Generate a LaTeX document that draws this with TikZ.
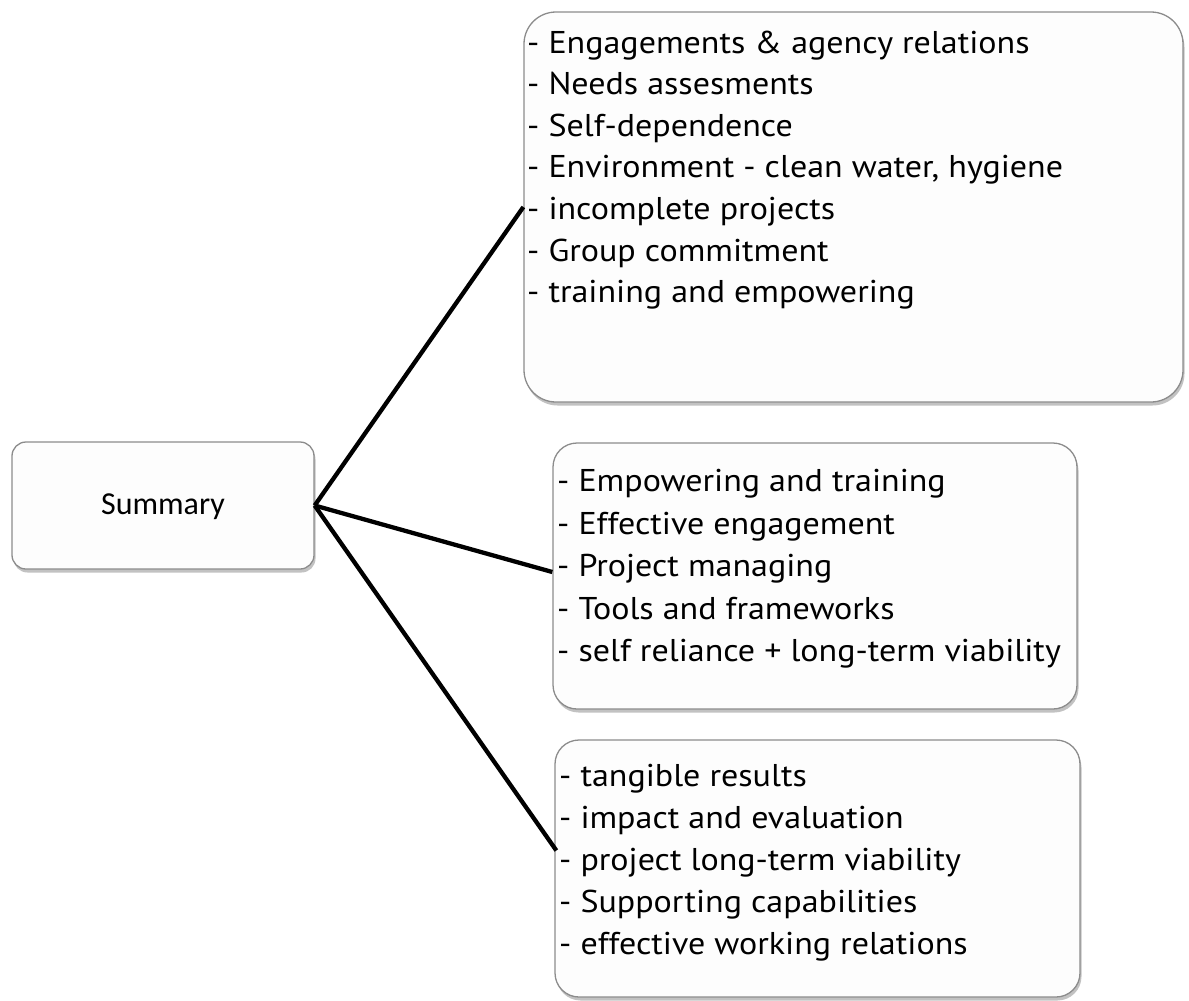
\documentclass[tikz,border=0pt]{standalone}
\usepackage{fontspec}
\setmainfont{PT Sans}[FakeStretch=1.08]
\newfontfamily\sumfont{Carlito}
\usetikzlibrary{shadows,calc}
\definecolor{boxline}{HTML}{8C8C8C}
\definecolor{boxfill}{HTML}{FDFDFD}
\tikzset{
  card/.style={draw=boxline, line width=1.3pt, fill=boxfill, rounded corners=#1,
    drop shadow={shadow xshift=1.5pt, shadow yshift=-3.5pt, opacity=0.4, fill=black!60},
    inner sep=0pt, anchor=center},
  card/.default=14pt,
  listtext/.style={anchor=north west, inner sep=0pt, align=left,
    font=\fontsize{31.5}{#1}\selectfont},
  listtext/.default=42,
  link/.style={line width=4.3pt, black}
}
\begin{document}
\begin{tikzpicture}[x=1pt,y=-1pt]
\useasboundingbox (0,0) rectangle (1189,1001);
\node[card=14pt, minimum width=302pt, minimum height=127pt] (sum) at (163,505.5) {};
\node[font=\sumfont\fontsize{32}{36}\selectfont] (sumtxt) at (163,507) {Summary};
\node[card=32pt, minimum width=659pt, minimum height=390pt] (b1) at (853.5,207) {};
\node[card=24pt, minimum width=524pt, minimum height=266pt] (b2) at (815,576) {};
\node[card=24pt, minimum width=525pt, minimum height=257pt] (b3) at (817.5,868.5) {};
\node[listtext=41.6] (t1) at (527,30.5) {- Engagements \& agency relations\\- Needs assesments\\- Self-dependence\\- Environment - clean water, hygiene\\- incomplete projects\\- Group commitment\\- training and empowering};
\node[listtext=42.6] (t2) at (557,469) {- Empowering and training\\- Effective engagement\\- Project managing\\- Tools and frameworks\\- self reliance + long-term viability};
\node[listtext=42] (t3) at (559,764) {- tangible results\\- impact and evaluation\\- project long-term viability\\- Supporting capabilities\\- effective working relations};
\coordinate (e3) at ($(b3.west)+(2,-18)$);
\draw[link] (sum.east) -- (b1.west);
\draw[link] (sum.east) -- ($(b2.west)+(0,-4)$);
\draw[link] (sum.east) -- (e3);
\end{tikzpicture}
\end{document}
